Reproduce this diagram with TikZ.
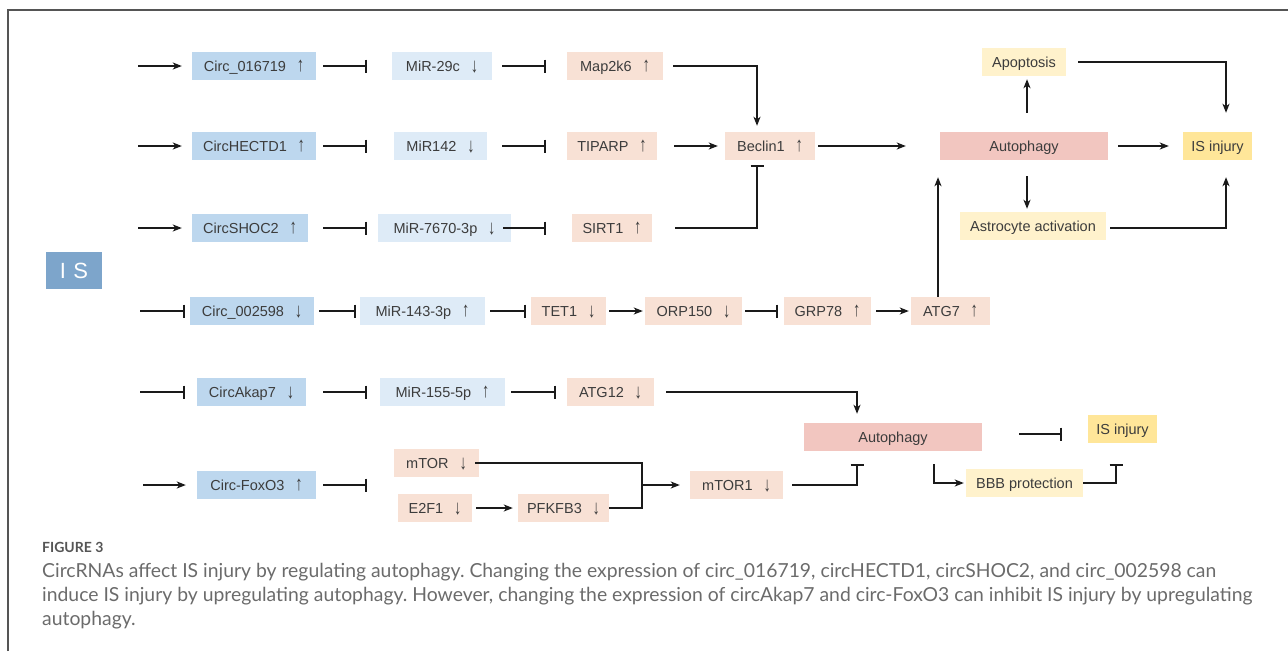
\documentclass[tikz,border=0pt]{standalone}
\usepackage{fontspec}
\setmainfont{Liberation Sans}
\newfontfamily\capfont{Lato}
\usetikzlibrary{arrows.meta,calc}
\definecolor{cblue}{HTML}{BDD7EE}
\definecolor{mblue}{HTML}{DEEBF7}
\definecolor{pk}{HTML}{F8E1D5}
\definecolor{autoc}{HTML}{F2C6C0}
\definecolor{ylw}{HTML}{FFE699}
\definecolor{lylw}{HTML}{FFF2CC}
\definecolor{isblue}{HTML}{7DA5CB}
\definecolor{txt}{HTML}{3C3C3C}
\definecolor{lnc}{HTML}{1A1A1A}
\definecolor{framec}{HTML}{555555}
\definecolor{capg}{HTML}{6B6B6B}
\definecolor{capf}{HTML}{555555}
\newcommand\upa{\hspace{0.75em}\scalebox{1}[1.4]{↑}}
\newcommand\dna{\hspace{0.75em}\raisebox{-1pt}{\scalebox{1}[1.4]{↓}}}
\begin{document}
\begin{tikzpicture}[x=1pt,y=-1pt,
  box/.style={inner sep=0pt, minimum height=28pt, text height=11pt, text depth=0.6pt, font=\fontsize{14.5}{16}\selectfont, text=txt},
  cb/.style={box, fill=cblue},
  mb/.style={box, fill=mblue},
  pb/.style={box, fill=pk},
  ab/.style={box, fill=autoc},
  yb/.style={box, fill=ylw},
  lyb/.style={box, fill=lylw},
  isb/.style={inner sep=0pt, fill=isblue, minimum width=56pt, minimum height=37pt, text=white, font=\fontsize{22}{24}\selectfont},
  ln/.style={line width=1.6pt, draw=lnc},
  arr/.style={ln, -{Stealth[length=9pt,width=7pt,inset=2.5pt]}},
  inh/.style={ln, -{Bar[width=13pt,line width=1.6pt]}},
  capline/.style={anchor=base west, inner sep=0pt, text=capg, font=\capfont\frenchspacing\fontsize{19.35}{19}\selectfont}
]
\useasboundingbox (0,0) rectangle (1288,651);
\draw[framec, line width=1.2pt] (8,651) -- (8,10) -- (1288,10);

% nodes
\node[isb] (is) at (74,270.5) {I\,\,S};
\node[cb, minimum width=124pt] (c1) at (254,66) {Circ\_016719\upa};
\node[mb, minimum width=100pt] (m1) at (442,66) {MiR-29c\dna};
\node[pb, minimum width=96pt] (p1) at (615,66) {Map2k6\upa};
\node[cb, minimum width=124pt] (c2) at (254,146) {CircHECTD1\upa};
\node[mb, minimum width=93pt] (m2) at (440.5,146) {MiR142\dna};
\node[pb, minimum width=90pt] (p2) at (612,146) {TIPARP\upa};
\node[pb, minimum width=90pt] (b) at (770,146) {Beclin1\upa};
\node[ab, minimum width=168pt] (a1) at (1024,146) {Autophagy};
\node[yb, minimum width=69pt] (i1) at (1217.5,146) {IS injury};
\node[lyb, minimum width=84pt] (ap) at (1024,62) {Apoptosis};
\node[lyb, minimum width=146pt] (as) at (1033,226) {Astrocyte activation};
\node[cb, minimum width=116pt] (c3) at (250,228) {CircSHOC2\upa};
\node[mb, minimum width=133pt] (m3) at (444.5,228) {MiR-7670-3p\dna};
\node[pb, minimum width=80pt] (p3) at (612,228) {SIRT1\upa};
\node[cb, minimum width=124pt] (c4) at (252,311) {Circ\_002598\dna};
\node[mb, minimum width=125pt] (m4) at (422.5,311) {MiR-143-3p\upa};
\node[pb, minimum width=75pt] (p4) at (568.5,311) {TET1\dna};
\node[pb, minimum width=97pt] (o) at (693.5,311) {ORP150\dna};
\node[pb, minimum width=87pt] (g) at (827.5,311) {GRP78\upa};
\node[pb, minimum width=79pt] (t) at (950.5,311) {ATG7\upa};
\node[cb, minimum width=109pt] (c5) at (251.5,392) {CircAkap7\dna};
\node[mb, minimum width=125pt] (m5) at (442.5,392) {MiR-155-5p\upa};
\node[pb, minimum width=87pt] (p5) at (610.5,392) {ATG12\dna};
\node[ab, minimum width=178pt] (a2) at (893,437) {Autophagy};
\node[yb, minimum width=69pt] (i2) at (1122.5,429) {IS injury};
\node[lyb, minimum width=117pt] (bb) at (1024.5,483) {BBB protection};
\node[cb, minimum width=119pt] (c6) at (256.5,485) {Circ-FoxO3\upa};
\node[pb, minimum width=85pt] (mt) at (436.5,463) {mTOR\dna};
\node[pb, minimum width=74pt] (e) at (435,508) {E2F1\dna};
\node[pb, minimum width=91pt] (pf) at (563.5,508) {PFKFB3\dna};
\node[pb, minimum width=93pt] (mr) at (736.5,485) {mTOR1\dna};

\coordinate (s1) at (138,66);
\coordinate (s2) at (138,146);
\coordinate (s3) at (138,228);
\coordinate (s4) at (140,311);
\coordinate (s5) at (140,392);
\coordinate (s6) at (143,485);
\coordinate (x6) at (367,485);
\coordinate (j) at (642,485);

% row 1
\draw[arr] (s1) -- ([xshift=-10pt]c1.west);
\draw[inh] ([xshift=7pt]c1.east) -- ([xshift=-25pt]m1.west);
\draw[inh] ([xshift=10pt]m1.east) -- ([xshift=-21pt]p1.west);
\draw[arr] ([xshift=10pt]p1.east) -| ([xshift=-13pt,yshift=6pt]b.north);
% row 2
\draw[arr] (s2) -- ([xshift=-10pt]c2.west);
\draw[inh] ([xshift=7pt]c2.east) -- ([xshift=-27pt]m2.west);
\draw[inh] ([xshift=15pt]m2.east) -- ([xshift=-21pt]p2.west);
\draw[arr] ([xshift=17pt]p2.east) -- ([xshift=-7pt]b.west);
\draw[arr] ([xshift=3pt]b.east) -- ([xshift=-34pt]a1.west);
\draw[arr] ([xshift=10pt]a1.east) -- ([xshift=-14pt]i1.west);
\draw[arr] ([xshift=3pt,yshift=19pt]a1.north) -- ([xshift=3pt,yshift=-3pt]ap.south);
\draw[arr] ([xshift=12pt]ap.east) -| ([xshift=8.5pt,yshift=19pt]i1.north);
\draw[arr] ([xshift=3pt,yshift=-16pt]a1.south) -- ([xshift=-6pt,yshift=3pt]as.north);
\draw[arr] ([xshift=4pt,yshift=-2pt]as.east) -| ([xshift=8.5pt,yshift=-17pt]i1.south);
% row 3
\draw[arr] (s3) -- ([xshift=-10pt]c3.west);
\draw[inh] ([xshift=15pt]c3.east) -- ([xshift=-11pt]m3.west);
\draw[inh] ([xshift=-8pt]m3.east) -- ([xshift=-26pt]p3.west);
\draw[inh] ([xshift=23pt]p3.east) -| ([xshift=-13pt,yshift=-5pt]b.south);
% row 4
\draw[inh] (s4) -- ([xshift=-5pt]c4.west);
\draw[inh] ([xshift=5pt]c4.east) -- ([xshift=-4pt]m4.west);
\draw[inh] ([xshift=5pt]m4.east) -- ([xshift=-5pt]p4.west);
\draw[arr] ([xshift=3pt]p4.east) -- ([xshift=-2pt]o.west);
\draw[inh] ([xshift=3pt]o.east) -- ([xshift=-6pt]g.west);
\draw[arr] ([xshift=5pt]g.east) -- ([xshift=-2pt]t.west);
\draw[arr] ([xshift=-12.5pt]t.north) -- ($(t.north |- a1.south)+(-12.5,17)$);
% row 5
\draw[inh] (s5) -- ([xshift=-12pt]c5.west);
\draw[inh] ([xshift=17pt]c5.east) -- ([xshift=-13pt]m5.west);
\draw[inh] ([xshift=6pt]m5.east) -- ([xshift=-11pt]p5.west);
\draw[arr] ([xshift=12pt]p5.east) -| ([xshift=-36pt,yshift=9pt]a2.north);
\draw[inh] ([xshift=37pt,yshift=3pt]a2.east) -- ([xshift=-26pt,yshift=-5pt]i2.west);
\draw[arr] ([xshift=41pt,yshift=-13pt]a2.south) |- ([xshift=-2pt]bb.west);
\draw[inh] (bb.east) -| ([xshift=-6.5pt,yshift=-21pt]i2.south);
% row 6
\draw[arr] (s6) -- ([xshift=-11pt]c6.west);
\draw[inh] ([xshift=7pt]c6.east) -- (x6);
\draw[ln] ([xshift=-4pt]mt.east) -| (j |- pf.east) -- (pf.east);
\draw[arr] (j) -- ([xshift=-10pt]mr.west);
\draw[arr] ([xshift=4pt]e.east) -- ([xshift=-5pt]pf.west);
\draw[inh] ([xshift=9pt]mr.east) -| ([xshift=-36pt,yshift=-13pt]a2.south);

% caption
\node[anchor=base west, inner sep=0pt, text=capf, font=\capfont\bfseries\fontsize{14}{14}\selectfont] (fig) at (42,552) {FIGURE 3};
\node[capline] (cap1) at (42,577) {CircRNAs affect IS injury by regulating autophagy. Changing the expression of circ\_016719, circHECTD1, circSHOC2, and circ\_002598 can};
\node[capline] (cap2) at (42,601) {induce IS injury by upregulating autophagy. However, changing the expression of circAkap7 and circ-FoxO3 can inhibit IS injury by upregulating};
\node[capline] (cap3) at (42,625) {autophagy.};
\end{tikzpicture}
\end{document}
